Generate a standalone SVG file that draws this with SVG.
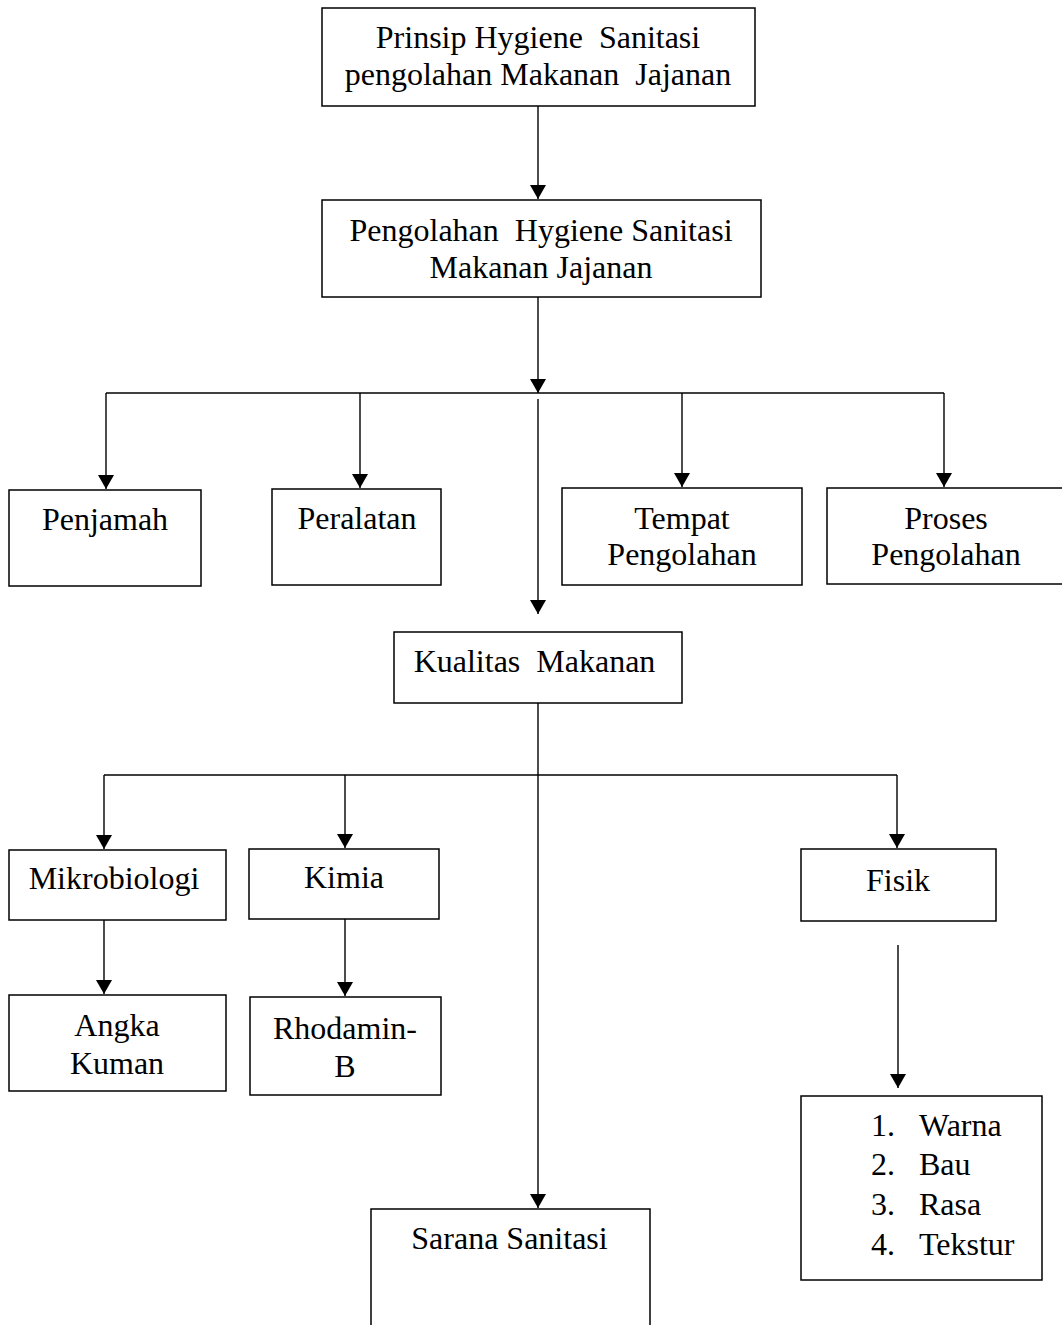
<svg xmlns="http://www.w3.org/2000/svg" width="1062" height="1325" viewBox="0 0 1062 1325">
<defs>
<marker id="ah" markerUnits="userSpaceOnUse" markerWidth="14" markerHeight="16" refX="14" refY="8" orient="auto">
<path d="M0,0 L14,8 L0,16 Z" fill="#000"/>
</marker>
<style>
.box{fill:#fff;stroke:#000;stroke-width:1.5}
.t{font-family:"Liberation Serif","Times New Roman",serif;font-size:32px;fill:#000}
.m{text-anchor:middle}
.c{fill:none;stroke:#000;stroke-width:1.4}
.a{fill:none;stroke:#000;stroke-width:1.4;marker-end:url(#ah)}
</style>
</defs>
<rect width="1062" height="1325" fill="#fff"/>
<g id="connectors">
<line class="a" x1="538" y1="106" x2="538" y2="199"/>
<line class="a" x1="538" y1="297" x2="538" y2="393"/>
<line class="c" x1="106" y1="393" x2="944" y2="393"/>
<line class="a" x1="106" y1="393" x2="106" y2="489"/>
<line class="a" x1="360" y1="393" x2="360" y2="488"/>
<line class="a" x1="682" y1="393" x2="682" y2="487"/>
<line class="a" x1="944" y1="393" x2="944" y2="487"/>
<line class="a" x1="538" y1="399" x2="538" y2="614"/>
<line class="c" x1="538" y1="703" x2="538" y2="775"/>
<line class="c" x1="104" y1="775" x2="897" y2="775"/>
<line class="a" x1="104" y1="775" x2="104" y2="849"/>
<line class="a" x1="345" y1="775" x2="345" y2="848"/>
<line class="a" x1="897" y1="775" x2="897" y2="848"/>
<line class="a" x1="538" y1="775" x2="538" y2="1208"/>
<line class="a" x1="104" y1="920" x2="104" y2="994"/>
<line class="a" x1="345" y1="919" x2="345" y2="996"/>
<line class="a" x1="898" y1="945" x2="898" y2="1088"/>
</g>
<g id="n1"><rect class="box" x="322" y="8" width="433" height="98"/>
<text class="t m" x="538" y="48" xml:space="preserve">Prinsip Hygiene  Sanitasi</text>
<text class="t m" x="538" y="85" xml:space="preserve">pengolahan Makanan  Jajanan</text></g>
<g id="n2"><rect class="box" x="322" y="200" width="439" height="97"/>
<text class="t m" x="541" y="241" xml:space="preserve">Pengolahan  Hygiene Sanitasi</text>
<text class="t m" x="541" y="278">Makanan Jajanan</text></g>
<g id="n3"><rect class="box" x="9" y="490" width="192" height="96"/>
<text class="t m" x="105" y="530">Penjamah</text></g>
<g id="n4"><rect class="box" x="272" y="489" width="169" height="96"/>
<text class="t m" x="357" y="529">Peralatan</text></g>
<g id="n5"><rect class="box" x="562" y="488" width="240" height="97"/>
<text class="t m" x="682" y="529">Tempat</text>
<text class="t m" x="682" y="565">Pengolahan</text></g>
<g id="n6"><rect class="box" x="827" y="488" width="245" height="96"/>
<text class="t m" x="946" y="529">Proses</text>
<text class="t m" x="946" y="565">Pengolahan</text></g>
<g id="n7"><rect class="box" x="394" y="632" width="288" height="71"/>
<text class="t m" x="534.5" y="672" xml:space="preserve">Kualitas  Makanan</text></g>
<g id="n8"><rect class="box" x="9" y="850" width="217" height="70"/>
<text class="t m" x="114" y="889">Mikrobiologi</text></g>
<g id="n9"><rect class="box" x="249" y="849" width="190" height="70"/>
<text class="t m" x="344" y="888">Kimia</text></g>
<g id="n10"><rect class="box" x="801" y="849" width="195" height="72"/>
<text class="t m" x="898" y="891">Fisik</text></g>
<g id="n11"><rect class="box" x="9" y="995" width="217" height="96"/>
<text class="t m" x="117" y="1036">Angka</text>
<text class="t m" x="117" y="1074">Kuman</text></g>
<g id="n12"><rect class="box" x="250" y="997" width="191" height="98"/>
<text class="t m" x="345" y="1039">Rhodamin-</text>
<text class="t m" x="345" y="1077">B</text></g>
<g id="n13"><rect class="box" x="801" y="1096" width="241" height="184"/>
<text class="t" x="871" y="1136">1.</text><text class="t" x="919" y="1136">Warna</text>
<text class="t" x="871" y="1175">2.</text><text class="t" x="919" y="1175">Bau</text>
<text class="t" x="871" y="1215">3.</text><text class="t" x="919" y="1215">Rasa</text>
<text class="t" x="871" y="1255">4.</text><text class="t" x="919" y="1255">Tekstur</text></g>
<g id="n14"><rect class="box" x="371" y="1209" width="279" height="130"/>
<text class="t m" x="509.5" y="1249">Sarana Sanitasi</text></g>
</svg>
